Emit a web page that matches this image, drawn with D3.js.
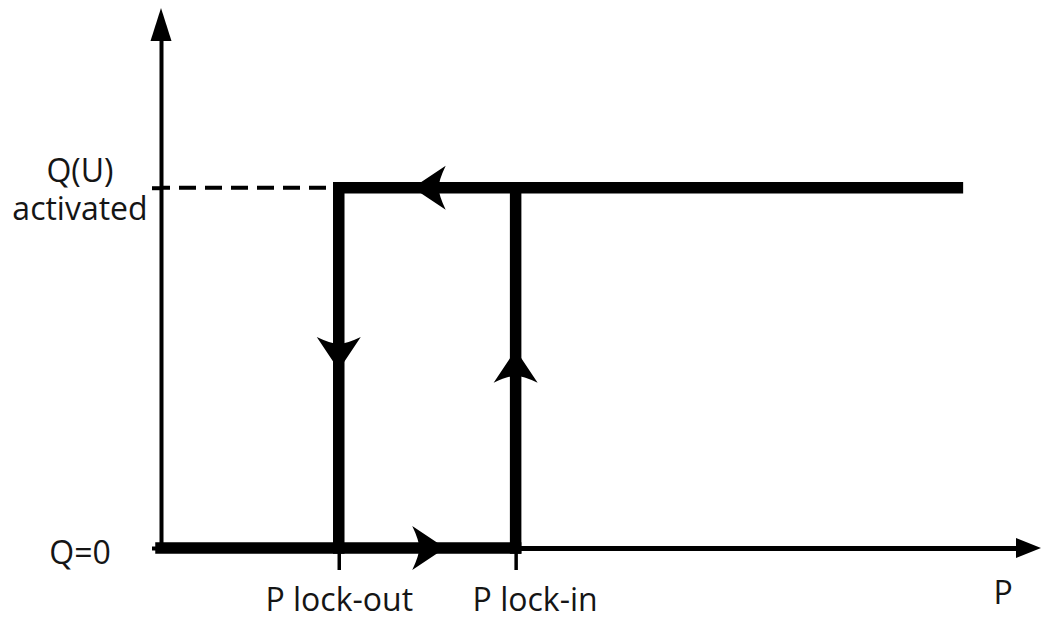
<!DOCTYPE html>
<html>
<head>
<meta charset="utf-8">
<script src="https://cdn.jsdelivr.net/npm/d3@7"></script>
<style>
    body { margin: 0; background: #fff; }
    text { font-family: "Open Sans", sans-serif; fill: #151515; }
</style>
</head>
<body>
<div id="chart"></div>
<script>
// P values (arbitrary units) and Q levels (0 / activated = 1)
let pLockOut = 2.02;
let pLockIn = 4.03;
let pEnd = 9.05;
let qLevels = [0, 1];
let qLabels = [["Q=0"], ["Q(U)", "activated"]];
let pTicks = [pLockOut, pLockIn];
let pTickLabels = ["P lock-out", "P lock-in"];
let pLabelShift = [0, 19];

// the hysteresis loop, drawn as three thick strokes
let bottomRun = [[0, 0], [pLockIn, 0]];
let lockInRise = [[pLockIn, 0], [pLockIn, 1]];
let topRun = [[pEnd, 1], [pLockOut, 1], [pLockOut, 0]];
let dashedRef = [[0, 1], [pLockOut, 1]];

// direction arrows on the loop: [P, Q, angle]
let loopArrows = [[2.86, 1, 180], [pLockOut, 0.494, 90], [pLockIn, 0.55, -90], [3.23, 0, 0]];

let W = 1043, H = 617;
let x0 = 161, y0 = 548;

let svg = d3.select("#chart").append("svg")
    .attr("width", W)
    .attr("height", H);

let xScale = d3.scaleLinear().domain([0, 9.75]).range([x0, 1019]);
let yScale = d3.scaleLinear().domain([0, 1.41]).range([y0, 40]);

//x axis with the two lock ticks
let xAxis = svg.append("g")
    .attr("transform", "translate(0," + y0 + ")")
    .call(d3.axisBottom(xScale)
        .tickValues(pTicks)
        .tickSize(22)
        .tickSizeOuter(0)
        .tickFormat(function (d, i) { return pTickLabels[i]; }));
xAxis.attr("font-size", null).attr("font-family", null);
xAxis.select(".domain").attr("stroke", "#000").attr("stroke-width", 5);
xAxis.selectAll(".tick line").attr("stroke", "#000").attr("stroke-width", 3.5);
xAxis.selectAll(".tick text")
    .attr("y", 63)
    .attr("dy", null)
    .attr("x", function (d, i) { return pLabelShift[i]; })
    .attr("fill", null)
    .style("font-size", "32px");

//y axis
let yAxis = svg.append("g")
    .attr("transform", "translate(" + x0 + ",0)")
    .call(d3.axisLeft(yScale)
        .tickValues(qLevels)
        .tickSize(9)
        .tickSizeOuter(0)
        .tickFormat(""));
yAxis.select(".domain").attr("stroke", "#000").attr("stroke-width", 4);
yAxis.selectAll(".tick line").attr("stroke", "#000").attr("stroke-width", 4);
yAxis.selectAll(".tick text").remove();

//y labels, centered left of the axis
qLevels.forEach(function (q, i) {
    let lines = qLabels[i];
    let t = svg.append("text")
        .attr("text-anchor", "middle")
        .style("font-size", "32px");
    let base = lines.length > 1 ? yScale(q) - 6 : yScale(q) + 16;
    lines.forEach(function (s, j) {
        t.append("tspan")
            .attr("x", 80)
            .attr("y", base + j * 38)
            .text(s);
    });
});

//axis name
svg.append("text")
    .attr("x", 1003)
    .attr("y", 604)
    .attr("text-anchor", "middle")
    .style("font-size", "32px")
    .text("P");

//axis arrowheads
svg.append("path")
    .attr("d", "M" + x0 + ",8 L" + (x0 + 10.5) + ",41 L" + (x0 - 10.5) + ",41 Z")
    .attr("fill", "#000");
svg.append("path")
    .attr("d", "M1041," + y0 + " L1016," + (y0 - 10) + " L1016," + (y0 + 10) + " Z")
    .attr("fill", "#000");

let line = d3.line()
    .x(function (d) { return xScale(d[0]); })
    .y(function (d) { return yScale(d[1]); });

//dashed reference at Q activated
svg.append("path")
    .attr("d", line(dashedRef))
    .attr("fill", "none")
    .attr("stroke", "#000")
    .attr("stroke-width", 4)
    .attr("stroke-dasharray", "17,9")
    .attr("stroke-dashoffset", -18);

[bottomRun, lockInRise, topRun].forEach(function (seg) {
    svg.append("path")
        .attr("d", line(seg))
        .attr("fill", "none")
        .attr("stroke", "#000")
        .attr("stroke-width", 11.5)
        .attr("stroke-linecap", "square")
        .attr("stroke-linejoin", "miter");
});

//arrowheads on the loop (tip at origin, pointing along +x)
let headL = 33, headW = 22, notch = 7;
svg.selectAll(".loopArrow")
    .data(loopArrows)
    .enter().append("path")
    .attr("class", "loopArrow")
    .attr("d", "M0,0 L" + (-headL) + "," + (-headW) +
        " Q" + (-headL + notch) + "," + (-headW / 3) + " " + (-headL + notch) + ",0" +
        " Q" + (-headL + notch) + "," + (headW / 3) + " " + (-headL) + "," + headW + " Z")
    .attr("transform", function (d) {
        return "translate(" + xScale(d[0]) + "," + yScale(d[1]) + ") rotate(" + d[2] + ")";
    })
    .attr("fill", "#000");
</script>
</body>
</html>
